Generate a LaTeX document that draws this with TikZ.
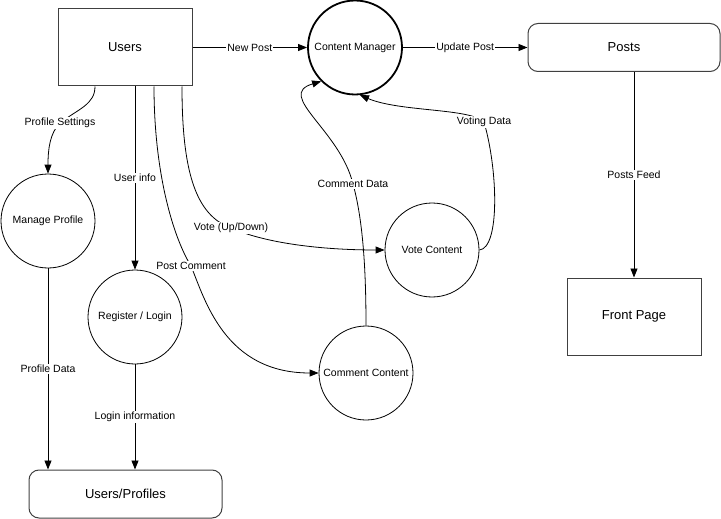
\documentclass[tikz,border=0pt]{standalone}
\usepackage{fontspec}
\setmainfont{Liberation Sans}
\usetikzlibrary{arrows.meta}
\begin{document}
\begin{tikzpicture}[x=1pt,y=-1pt,
  every node/.style={font=\fontsize{10.5}{12}\selectfont},
  proc/.style={draw, circle, minimum size=94pt, inner sep=0pt, line width=0.8pt},
  ent/.style={draw=black!75, rectangle, line width=1pt, minimum width=134pt, minimum height=77pt, font=\fontsize{13}{15}\selectfont},
  store/.style={draw=black!75, rectangle, rounded corners=10pt, line width=1pt, minimum height=48pt, font=\fontsize{13}{15}\selectfont},
  lab/.style={fill=white, inner sep=1pt},
  flow/.style={-{Triangle[length=9pt,width=7pt]}, line width=0.8pt}
]
\useasboundingbox (0,0) rectangle (721,519);

% nodes
\node[ent] (users) at (125,47.5) {Users};
\node[proc, line width=1.8pt] (cm) at (355,47.5) {Content Manager};
\node[store, minimum width=192pt] (posts) at (624,47.5) {Posts};
\node[ent] (fp) at (634,316.5) {Front Page};
\node[proc] (mp) at (48,221) {Manage Profile};
\node[proc] (rl) at (135,317) {Register / Login};
\node[proc] (vc) at (432,250) {Vote Content};
\node[proc] (cc) at (366,373) {Comment Content};
\node[store, minimum width=193pt] (up) at (125.5,494) {Users/Profiles};

% straight flows
\draw[flow] (users.east) -- node[lab]{New Post} (cm.west);
\draw[flow] (cm.east) -- node[lab]{Update Post} (posts.west);
\draw[flow] (posts.south -| fp.north) -- node[lab]{Posts Feed} (fp.north);
\draw[flow] (users.south -| rl.north) -- node[lab]{User info} (rl.north);
\draw[flow] (mp.south) -- node[lab]{Profile Data} (mp.south |- up.north);
\draw[flow] (rl.south) -- node[lab]{Login information} (rl.south |- up.north);

% curved flows
\draw[flow] ([xshift=-30pt]users.south) .. controls +(0,18) and +(18,-14) .. (60,123)
  node[lab]{Profile Settings} .. controls +(-10,10) and +(0,-25) .. (mp.north);
\draw[flow] ([xshift=29pt]users.south) .. controls (154,170) and (172,235) .. (191,266)
  node[lab]{Post Comment} .. controls (205,300) and (225,373) .. (cc.west);
\draw[flow] ([xshift=57pt]users.south) .. controls (182,170) and (195,215) .. (231,228)
  node[lab]{Vote (Up/Down)} .. controls (270,245) and (330,250) .. (vc.west);
\draw[flow] (vc.east) .. controls (500,248) and (498,170) .. (484,122)
  node[lab]{Voting Data} .. controls (470,108) and (400,112) .. (cm.-84);
\draw[flow] (cc.north) .. controls (366,270) and (363,220) .. (353,184)
  node[lab]{Comment Data} .. controls (340,130) and (275,95) .. (cm.225);
\end{tikzpicture}
\end{document}
